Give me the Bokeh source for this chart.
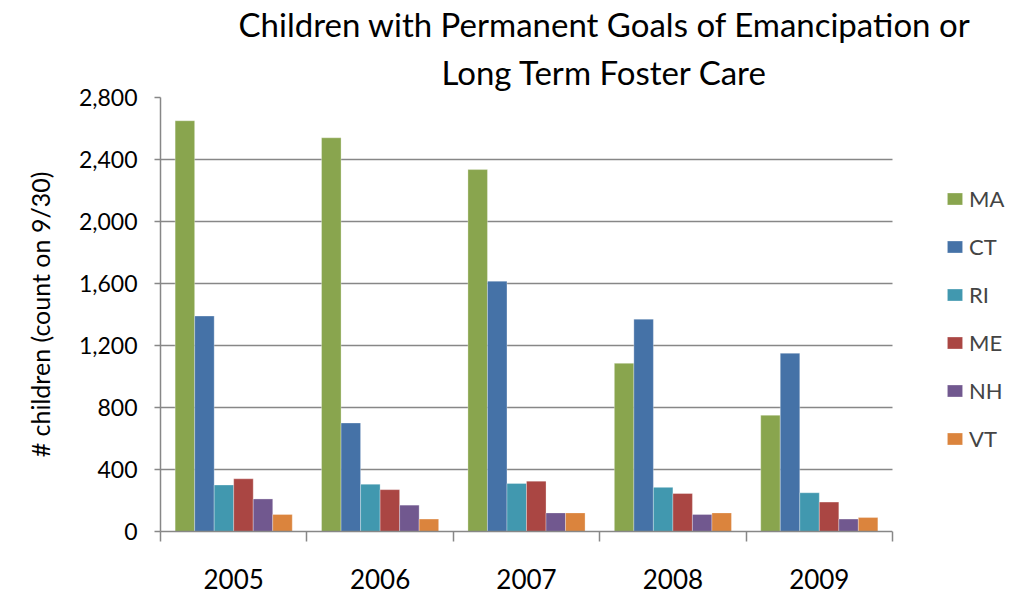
from bokeh.plotting import figure
from bokeh.models import (ColumnDataSource, FixedTicker, NumeralTickFormatter, Range1d,
                          Legend, LegendItem, Title, BoxAnnotation)
from bokeh.embed import file_html
from bokeh.resources import INLINE

years = ["2005", "2006", "2007", "2008", "2009"]
states = ["MA", "CT", "RI", "ME", "NH", "VT"]
MA = [2650, 2540, 2335, 1085, 750]
CT = [1390, 700, 1615, 1370, 1150]
RI = [300, 305, 310, 285, 250]
ME = [340, 270, 325, 245, 190]
NH = [210, 170, 120, 110, 80]
VT = [110, 80, 120, 120, 90]
colors = ["#89A54E", "#4572A7", "#4198AF", "#AA4643", "#71588F", "#DB843D"]
y_ticks = [0, 400, 800, 1200, 1600, 2000, 2400, 2800]
series = [MA, CT, RI, ME, NH, VT]
title_lines = ["Children with Permanent Goals of Emancipation or", "Long Term Foster Care"]

FONT = "Lato"
GRID = "#878787"

# layout (pixels): the frame spans the full width right of the y axis; the bar area
# occupies the first PLOT_PX pixels, the legend sits in the remaining white strip.
W, H = 1012, 600
LEFT, TOP, BOTTOM = 160, 97, 69
PLOT_PX = 732
n = len(years)
x_end = n * (W - LEFT) / PLOT_PX

p = figure(width=W, height=H, output_backend="svg", toolbar_location=None,
           min_border_left=LEFT, min_border_right=0, min_border_top=TOP, min_border_bottom=BOTTOM,
           x_range=Range1d(0, x_end), y_range=Range1d(0, 2800))
p.outline_line_color = None
p.background_fill_color = "white"
p.border_fill_color = "white"

group_w = 0.8
bw = group_w / len(states)
items = []
for j, (name, vals, col) in enumerate(zip(states, series, colors)):
    off = (j - (len(states) - 1) / 2) * bw
    src = ColumnDataSource(dict(x=[i + 0.5 + off for i in range(n)], top=vals))
    r = p.vbar(x="x", top="top", bottom=0, width=bw, source=src, fill_color=col,
               line_color="white", line_width=0.6, line_alpha=0.5)
    items.append(LegendItem(label=name, renderers=[r]))

# x axis
xa = p.xaxis[0]
xa.bounds = (0, n)
xa.ticker = FixedTicker(ticks=[i + 0.5 for i in range(n)], minor_ticks=list(range(n + 1)))
xa.major_label_overrides = {i + 0.5: y for i, y in enumerate(years)}
xa.major_tick_out = 0
xa.major_tick_in = 0
xa.minor_tick_out = 10
xa.minor_tick_in = 0
xa.minor_tick_line_color = GRID
xa.minor_tick_line_width = 1.5
xa.axis_line_color = GRID
xa.axis_line_width = 1.5
xa.major_label_text_font = FONT
xa.major_label_text_font_size = "26px"
xa.major_label_text_color = "black"
xa.major_label_standoff = 27

# y axis
ya = p.yaxis[0]
ya.ticker = FixedTicker(ticks=y_ticks)
ya.formatter = NumeralTickFormatter(format="0,0")
ya.major_tick_out = 6
ya.major_tick_in = 0
ya.minor_tick_out = 0
ya.major_tick_line_color = GRID
ya.major_tick_line_width = 1.5
ya.axis_line_color = GRID
ya.axis_line_width = 1.5
ya.major_label_text_font = FONT
ya.major_label_text_font_size = "23px"
ya.major_label_text_color = "black"
ya.major_label_standoff = 17
ya.axis_label = "# children (count on 9/30)"
ya.axis_label_text_font = FONT
ya.axis_label_text_font_size = "25px"
ya.axis_label_text_font_style = "normal"
ya.axis_label_text_color = "black"
ya.axis_label_standoff = 21

p.xgrid.visible = False
p.ygrid.ticker = FixedTicker(ticks=y_ticks)
p.ygrid.grid_line_color = GRID
p.ygrid.grid_line_width = 1.5

# white strip right of the bar area (legend area) and the title box hiding the top gridline
p.add_layout(BoxAnnotation(left=n, fill_color="white", fill_alpha=1, line_color=None))
p.add_layout(BoxAnnotation(left=0.34, bottom=2775, fill_color="white", fill_alpha=1,
                           line_color=None))

legend = Legend(items=items, location=(785, 78), orientation="vertical",
                glyph_width=19, glyph_height=15, label_height=30, spacing=18,
                padding=0, margin=0, label_standoff=5,
                label_text_font=FONT, label_text_font_size="22px",
                border_line_color=None, background_fill_alpha=0)
p.add_layout(legend, "center")

t2 = Title(text=title_lines[1], align="left", offset=281, standoff=12,
           text_font=FONT, text_font_size="33px", text_font_style="normal", text_color="black")
t1 = Title(text=title_lines[0], align="left", offset=78, standoff=0,
           text_font=FONT, text_font_size="33px", text_font_style="normal", text_color="black")
p.add_layout(t2, "above")
p.add_layout(t1, "above")

open("out.html", "w").write(file_html(p, INLINE))
